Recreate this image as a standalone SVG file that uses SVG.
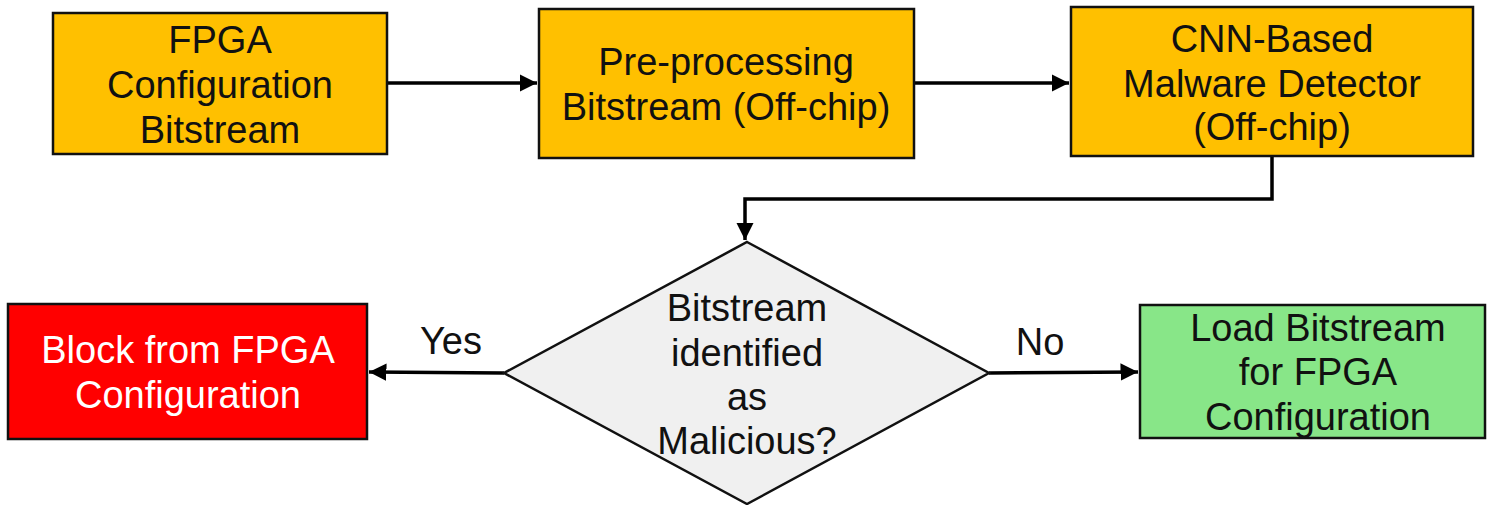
<svg xmlns="http://www.w3.org/2000/svg" width="1487" height="505" viewBox="0 0 1487 505">
<style>
.box{stroke:#111;stroke-width:2.5}
.t{font-family:"Liberation Sans",Arial,sans-serif;font-size:38px;fill:#111;text-anchor:middle}
.w{fill:#fff}
.c{fill:none;stroke:#000;stroke-width:3.5}
</style>
<defs>
<marker id="a" viewBox="0 0 10 10" refX="10" refY="5" markerWidth="5" markerHeight="5" markerUnits="strokeWidth" orient="auto"><path d="M0,0 L10,5 L0,10 z" fill="#000"/></marker>
</defs>
<rect width="1487" height="505" fill="#fff"/>
<g id="connectors">
<line class="c" x1="387" y1="83" x2="537" y2="83" marker-end="url(#a)"/>
<line class="c" x1="914" y1="83" x2="1069" y2="83" marker-end="url(#a)"/>
<polyline class="c" points="1272,156 1272,199 745,199 745,240" marker-end="url(#a)"/>
<line class="c" x1="504" y1="373" x2="369" y2="372" marker-end="url(#a)"/>
<line class="c" x1="989" y1="373" x2="1138" y2="372" marker-end="url(#a)"/>
</g>
<g id="n1"><rect class="box" x="53" y="13" width="334" height="141" fill="#FFC000"/>
<text class="t" x="220" y="53">FPGA</text><text class="t" x="220" y="98">Configuration</text><text class="t" x="220" y="143">Bitstream</text></g>
<g id="n2"><rect class="box" x="539" y="9" width="375" height="149" fill="#FFC000"/>
<text class="t" x="726" y="75">Pre-processing</text><text class="t" x="726" y="120">Bitstream (Off-chip)</text></g>
<g id="n3"><rect class="box" x="1071" y="7" width="402" height="149" fill="#FFC000"/>
<text class="t" x="1272" y="52">CNN-Based</text><text class="t" x="1272" y="97">Malware Detector</text><text class="t" x="1272" y="140">(Off-chip)</text></g>
<g id="n4"><polygon class="box" points="747,242 989,373 747,504 504,373" fill="#F0F0F0"/>
<text class="t" x="747" y="321">Bitstream</text><text class="t" x="747" y="366">identified</text><text class="t" x="747" y="410">as</text><text class="t" x="747" y="454">Malicious?</text></g>
<g id="n5"><rect class="box" x="8" y="304" width="359" height="135" fill="#FF0000"/>
<text class="t w" x="188" y="363">Block from FPGA</text><text class="t w" x="188" y="408">Configuration</text></g>
<g id="n6"><rect class="box" x="1140" y="305" width="345" height="133" fill="#88E688"/>
<text class="t" x="1318" y="341">Load Bitstream</text><text class="t" x="1318" y="385">for FPGA</text><text class="t" x="1318" y="430">Configuration</text></g>
<g id="labels"><text class="t" x="451" y="354">Yes</text><text class="t" x="1040" y="355">No</text></g>
</svg>
